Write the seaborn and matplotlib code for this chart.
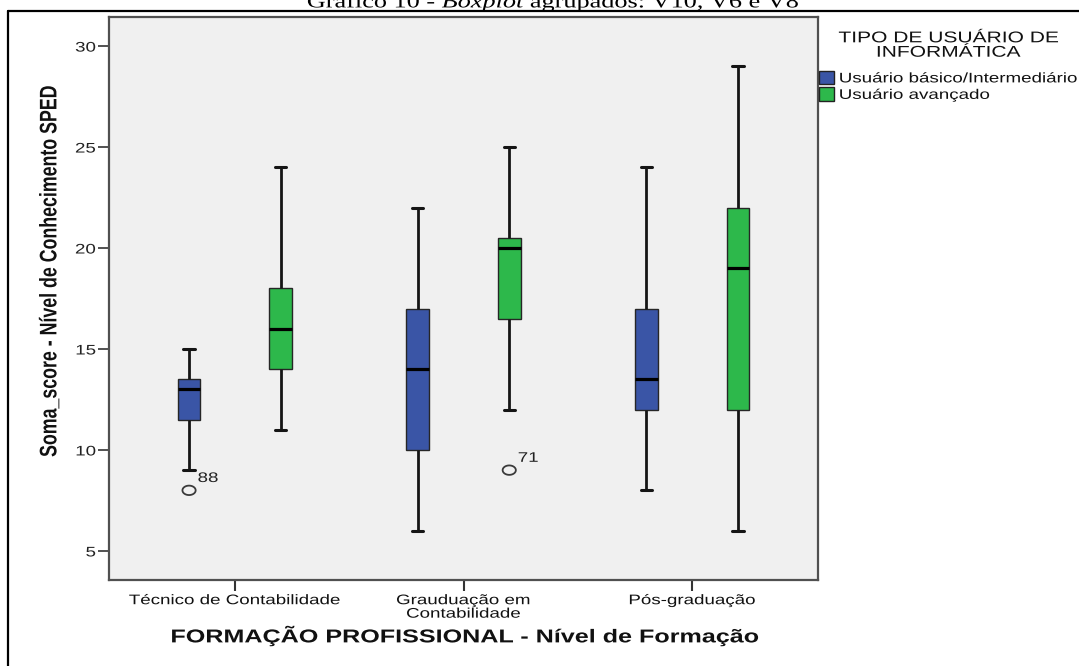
import numpy as np
import pandas as pd
import matplotlib
matplotlib.use("Agg")
import matplotlib.pyplot as plt
import seaborn as sns
from matplotlib.lines import Line2D
from matplotlib.patches import Patch
from matplotlib.path import Path
from matplotlib.patheffects import AbstractPathEffect
from matplotlib.transforms import Affine2D

# ---- data -------------------------------------------------------------
formacao = ["Técnico de Contabilidade", "Grauduação em\nContabilidade", "Pós-graduação"]
tipos = ["Usuário básico/Intermediário", "Usuário avançado"]

# five-number summaries (min, Q1, median, Q3, max) per formação
basico_min = [9, 6, 8]
basico_q1 = [11.5, 10, 12]
basico_med = [13, 14, 13.5]
basico_q3 = [13.5, 17, 17]
basico_max = [15, 22, 24]

avancado_min = [11, 12, 6]
avancado_q1 = [14, 16.5, 12]
avancado_med = [16, 20, 19]
avancado_q3 = [18, 20.5, 22]
avancado_max = [24, 25, 29]

# outliers with their case numbers
outlier_formacao = ["Técnico de Contabilidade", "Grauduação em\nContabilidade"]
outlier_tipo = ["Usuário básico/Intermediário", "Usuário avançado"]
outlier_valor = [8, 9]
outlier_caso = ["88", "71"]

yticks = [5, 10, 15, 20, 25, 30]

# ---- style ------------------------------------------------------------
sns.set_style("white")
plt.rcParams["font.family"] = ["Liberation Sans", "DejaVu Sans"]
plt.rcParams["mathtext.fontset"] = "custom"
plt.rcParams["mathtext.rm"] = "Liberation Serif"
plt.rcParams["mathtext.it"] = "Liberation Serif:italic"

W, H = 1079, 666
SX = 1.35  # horizontal widening of the lettering


class StretchX(AbstractPathEffect):
    """Draw text widened horizontally about a chosen anchor."""

    def __init__(self, sx=SX, anchor="center"):
        super().__init__()
        self.sx = sx
        self.anchor = anchor

    def draw_path(self, renderer, gc, tpath, affine, rgbFace=None):
        ext = tpath.transformed(affine).get_extents()
        if self.anchor == "left":
            x0 = ext.x0
        elif self.anchor == "right":
            x0 = ext.x1
        else:
            x0 = 0.5 * (ext.x0 + ext.x1)
        t = affine + Affine2D().translate(-x0, 0).scale(self.sx, 1).translate(x0, 0)
        renderer.draw_path(gc, tpath, t, rgbFace)


def px(x, y):
    return x / W, 1 - y / H


blue = "#3A55A6"
green = "#2DB84B"

# ---- long-form table built from the summaries ----------------------------
rows = []
for i, f in enumerate(formacao):
    for v in (basico_min[i], basico_q1[i], basico_med[i], basico_q3[i], basico_max[i]):
        rows.append((f, tipos[0], v))
    for v in (avancado_min[i], avancado_q1[i], avancado_med[i], avancado_q3[i], avancado_max[i]):
        rows.append((f, tipos[1], v))
df = pd.DataFrame(rows, columns=["formacao", "tipo", "valor"])
out_df = pd.DataFrame({"formacao": outlier_formacao, "tipo": outlier_tipo,
                       "valor": outlier_valor, "caso": outlier_caso})

# ---- figure ----------------------------------------------------------
fig = plt.figure(figsize=(W / 100, H / 100), dpi=100)
fig.patch.set_facecolor("white")
l, b = px(109, 580)
r, t = px(818, 17)
ax = fig.add_axes([l, b, r - l, t - b])
ax.set_facecolor("#F0F0F0")

sns.boxplot(
    data=df, x="formacao", y="valor", hue="tipo",
    order=formacao, hue_order=tipos, palette=[blue, green],
    saturation=1, width=0.8, gap=0.75, whis=(0, 100),
    linewidth=1.0, linecolor="#262626", legend=False, ax=ax,
    medianprops={"color": "black", "linewidth": 2.3},
    whiskerprops={"color": "#151515", "linewidth": 2.0},
    capprops={"color": "#151515", "linewidth": 2.2},
)

# outliers as open rings
theta = np.linspace(0, 2 * np.pi, 73)
ring = Path(np.column_stack([1.4 * np.cos(theta), np.sin(theta)]), closed=True)
n_before = len(ax.collections)
sns.stripplot(
    data=out_df, x="formacao", y="valor", hue="tipo",
    order=formacao, hue_order=tipos, palette=[blue, green],
    dodge=True, jitter=False, marker=ring, size=9.5, legend=False, ax=ax,
)
for coll in ax.collections[n_before:]:
    coll.set_facecolor("none")
    coll.set_edgecolor("#3a3a3a")
    coll.set_linewidth(1.3)
    for xo, yo in coll.get_offsets():
        cat = formacao[int(round(xo))]
        for f, v, caso in zip(outlier_formacao, outlier_valor, outlier_caso):
            if f == cat and abs(v - yo) < 1e-9:
                ax.annotate(caso, (xo, yo), xytext=(6.3, 6.0), textcoords="offset points",
                            ha="left", va="baseline", fontsize=10, color="#222",
                            path_effects=[StretchX(anchor="left")])

# axes
ax.set_xlim(-0.55, 2.55)
ax.set_ylim(3.56, 31.44)
ax.set_yticks(yticks)
ax.set_yticklabels([str(v) for v in yticks])
ax.set_xlabel("")
ax.set_ylabel("")
ax.tick_params(axis="y", direction="out", length=8, width=1.2, color="#333",
               pad=1.5, labelsize=10, labelcolor="#222", left=True)
ax.tick_params(axis="x", direction="out", length=8, width=1.5, color="#333",
               pad=1.5, labelsize=10, labelcolor="#111", bottom=True)
for s in ax.spines.values():
    s.set_visible(True)
    s.set_color("#505050")
    s.set_linewidth(1.6)
for lab in ax.get_yticklabels():
    lab.set_path_effects([StretchX(anchor="right")])
for lab in ax.get_xticklabels():
    lab.set_linespacing(0.95)
    lab.set_path_effects([StretchX(anchor="center")])

# axis titles
fig.text(*px(50, 271), "Soma_score - Nível de Conhecimento SPED", rotation=90,
         ha="center", va="center", fontsize=12.8, fontweight="bold", color="#111",
         path_effects=[StretchX(anchor="center")])
fig.text(*px(465, 636), "FORMAÇÃO PROFISSIONAL - Nível de Formação",
         ha="center", va="center", fontsize=13.4, fontweight="bold", color="#111",
         path_effects=[StretchX(anchor="center")])

# legend
fig.text(*px(948, 45), "TIPO DE USUÁRIO DE\nINFORMÁTICA", ha="center", va="center",
         fontsize=11.2, linespacing=0.95, color="#111",
         path_effects=[StretchX(anchor="center")])
handles = [Patch(facecolor=blue, edgecolor="#222", linewidth=1.0, label=tipos[0]),
           Patch(facecolor=green, edgecolor="#222", linewidth=1.0, label=tipos[1])]
leg = fig.legend(handles=handles, loc="upper left", bbox_to_anchor=px(819, 71),
                 frameon=False, fontsize=10, handlelength=1.1, handleheight=1.1,
                 handletextpad=0.35, labelspacing=0.15, borderpad=0, borderaxespad=0)
for txt in leg.get_texts():
    txt.set_color("#111")
    txt.set_path_effects([StretchX(anchor="left")])

# caption and page frame
fig.text(*px(554, 7.5), r"Gráfico 10 - $\it{Boxplot}$ agrupados: V10, V6 e V8",
         ha="center", va="baseline", fontsize=14, family="Liberation Serif", color="black",
         path_effects=[StretchX(sx=1.35, anchor="center")])
fig.add_artist(Line2D([8 / W, 1.0], [1 - 11 / H, 1 - 11 / H], transform=fig.transFigure,
                      color="black", linewidth=1.6))
fig.add_artist(Line2D([8 / W, 8 / W], [0.0, 1 - 11 / H], transform=fig.transFigure,
                      color="black", linewidth=1.6))

fig.savefig("out.png", dpi=100, facecolor="white")
